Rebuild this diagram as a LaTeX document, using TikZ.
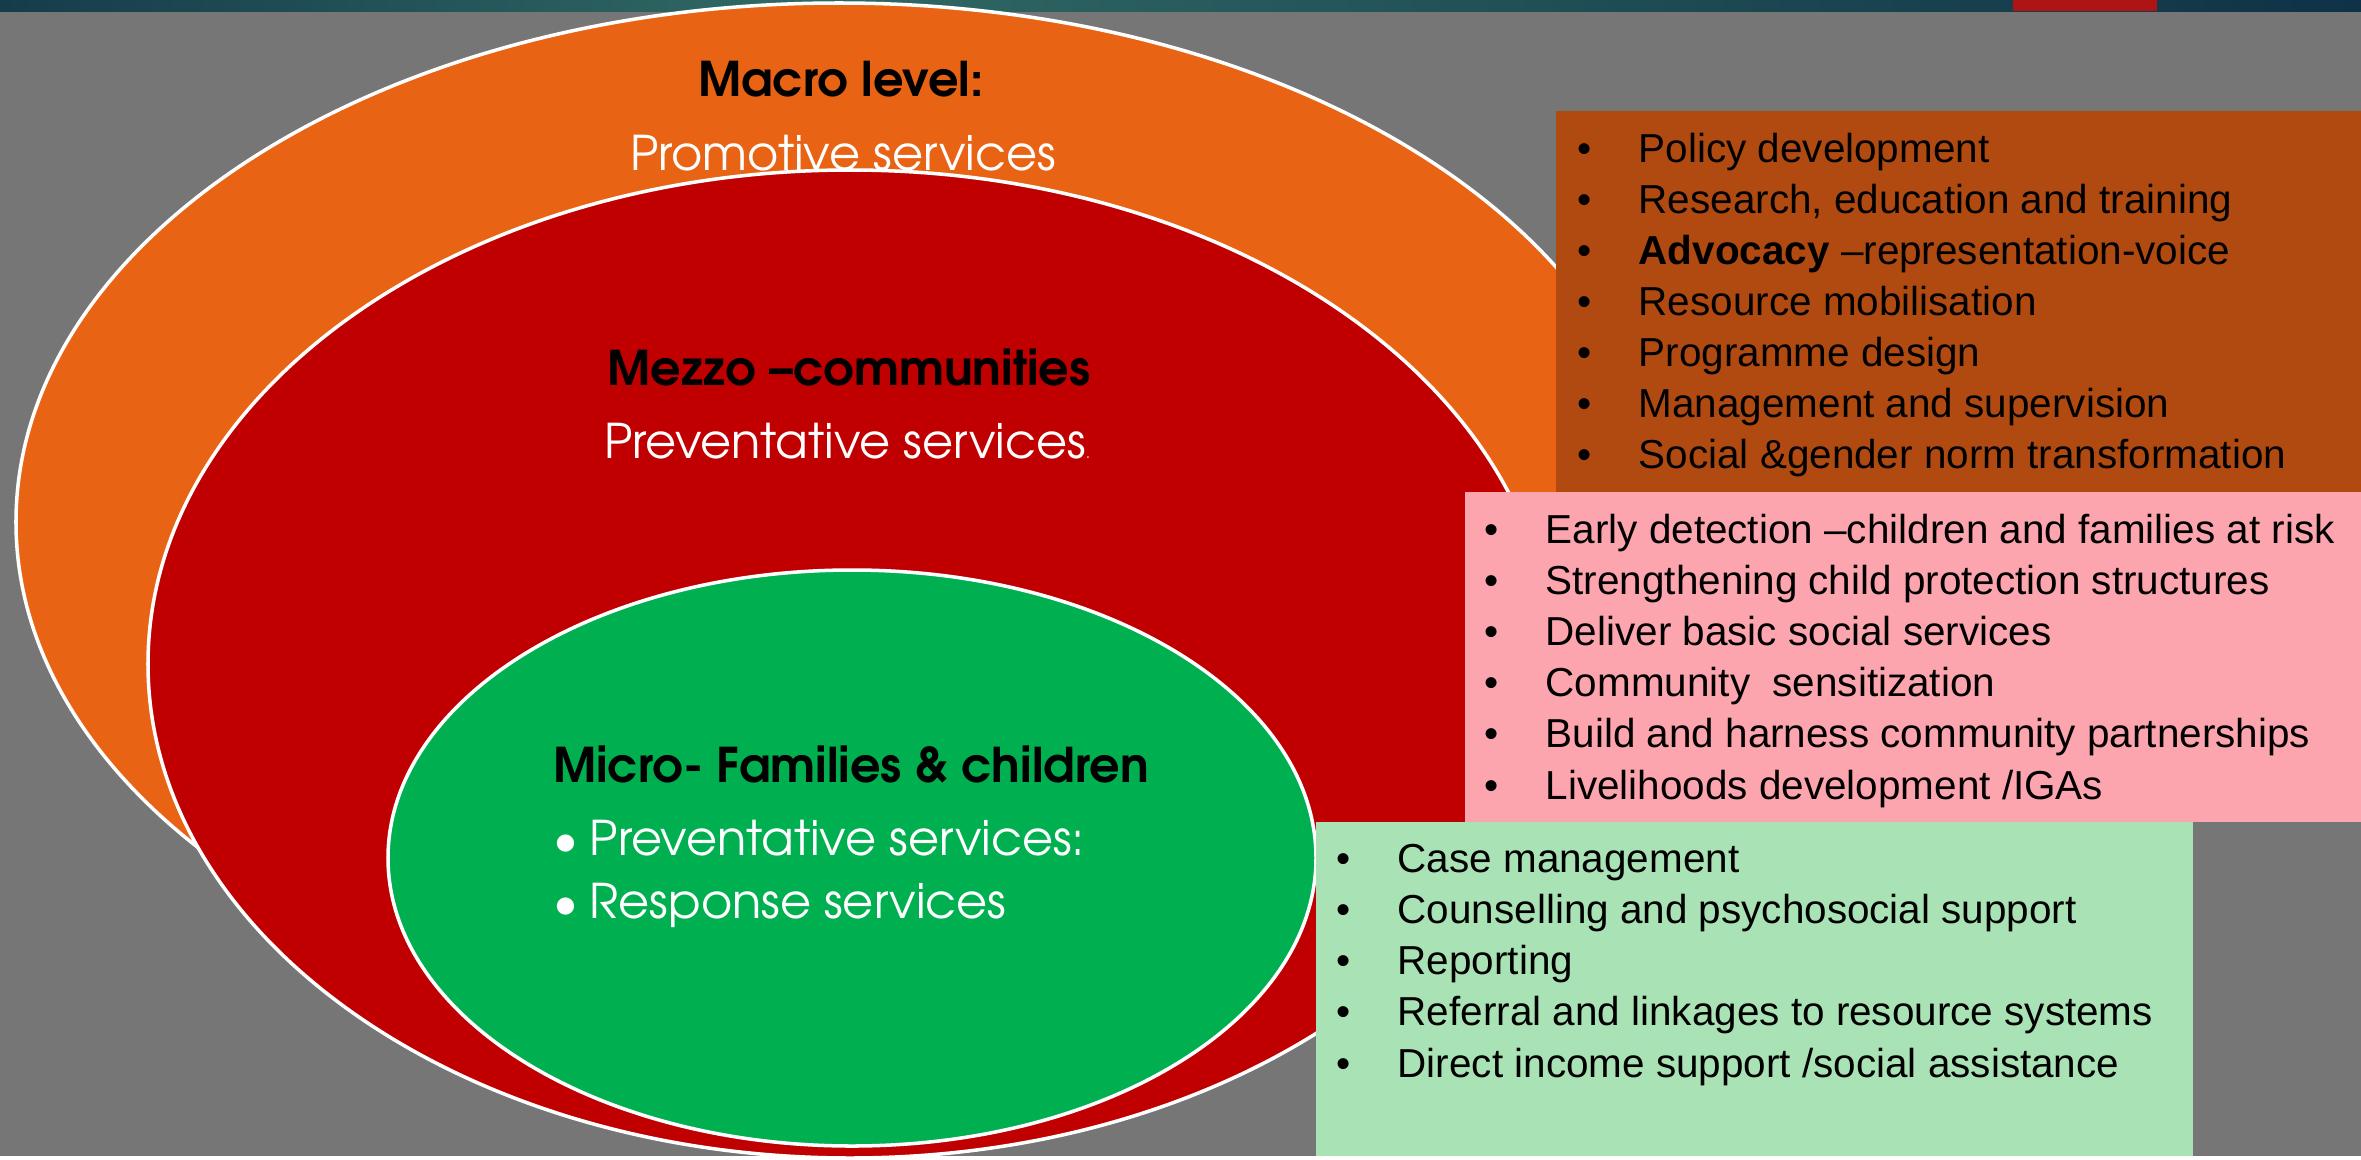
\documentclass[tikz,border=0pt]{standalone}
\usepackage{fontspec}
\setmainfont{Liberation Sans}
\newfontfamily\headfont{TeX Gyre Adventor}

\definecolor{BackClr}{rgb}{0.463,0.463,0.463}
\definecolor{BarLeftClr}{rgb}{0.086,0.235,0.294}
\definecolor{BarMidClr}{rgb}{0.188,0.412,0.392}
\definecolor{BarRightClr}{rgb}{0.059,0.196,0.275}
\definecolor{BarRedClr}{rgb}{0.686,0.078,0.078}
\definecolor{MacroClr}{rgb}{0.914,0.388,0.078}
\definecolor{MezzoClr}{rgb}{0.753,0,0}
\definecolor{MicroClr}{rgb}{0,0.69,0.314}
\definecolor{PolicyClr}{rgb}{0.69,0.29,0.063}
\definecolor{CommClr}{rgb}{0.988,0.647,0.682}
\definecolor{CareClr}{rgb}{0.663,0.89,0.71}

\begin{document}
\begin{tikzpicture}[x=0.01cm,y=-0.01cm,
  ring/.style={draw=white,line width=1pt},
  head/.style={anchor=base,inner sep=0pt,font=\headfont\bfseries\fontsize{13.6}{15}\selectfont},
  sub/.style={anchor=base,inner sep=0pt,text=white,font=\headfont\fontsize{13.6}{15}\selectfont},
  item/.style={anchor=base west,inner sep=0pt,font=\fontsize{11.5}{13}\selectfont}]

% background and title bar
\fill[BackClr] (0,0) rectangle (2361,1156);
\shade[left color=BarLeftClr,right color=BarMidClr] (0,0) rectangle (800,11);
\shade[left color=BarMidClr,right color=BarRightClr] (800,0) rectangle (2361,11);
\fill[BarRedClr] (2013,0) rectangle (2157,11);

% the three levels
\filldraw[ring,fill=MacroClr] (839,522) ellipse [x radius=823,y radius=519];
\filldraw[ring,fill=MezzoClr] (850,664) ellipse [x radius=702,y radius=494];
\filldraw[ring,fill=MicroClr] (852,858) ellipse [x radius=464,y radius=288];

\node[head] (macro) at (841,96) {Macro level:};
\node[sub] (macrosub) at (843,170) {Promotive services};
\node[head] (mezzo) at (849,385) {Mezzo –communities};
\node[sub] (mezzosub) at (847,458) {Preventative services{\fontsize{4}{5}\selectfont .}};
\node[head] (micro) at (851,782) {Micro- Families \& children};
\node[sub,anchor=base west] (microa) at (553,855) {\makebox[0.36cm][l]{\textbullet}Preventative services:};
\node[sub,anchor=base west] (microb) at (553,918) {\makebox[0.36cm][l]{\textbullet}Response services};

% service boxes
\fill[PolicyClr] (1556,111) rectangle (2361,492);
\fill[CommClr] (1465,492) rectangle (2361,822);
\fill[CareClr] (1316,822) rectangle (2193,1156);

\foreach \txt [count=\i from 0] in {Policy development,{Research, education and training},
  \textbf{Advocacy} –representation-voice,Resource mobilisation,Programme design,
  Management and supervision,Social \&gender norm transformation}
  \node[item] (pol\i) at (1577,162+51.1*\i) {\makebox[0.61cm][l]{\textbullet}\txt};

\foreach \txt [count=\i from 0] in {Early detection –children and families at risk,
  Strengthening child protection structures,Deliver basic social services,
  Community\ \ sensitization,Build and harness community partnerships,
  Livelihoods development /IGAs}
  \node[item] (com\i) at (1484,543+51.2*\i) {\makebox[0.61cm][l]{\textbullet}\txt};

\foreach \txt [count=\i from 0] in {Case management,Counselling and psychosocial support,
  Reporting,Referral and linkages to resource systems,
  Direct income support /social assistance}
  \node[item] (care\i) at (1336,872+51.3*\i) {\makebox[0.61cm][l]{\textbullet}\txt};

\end{tikzpicture}
\end{document}
